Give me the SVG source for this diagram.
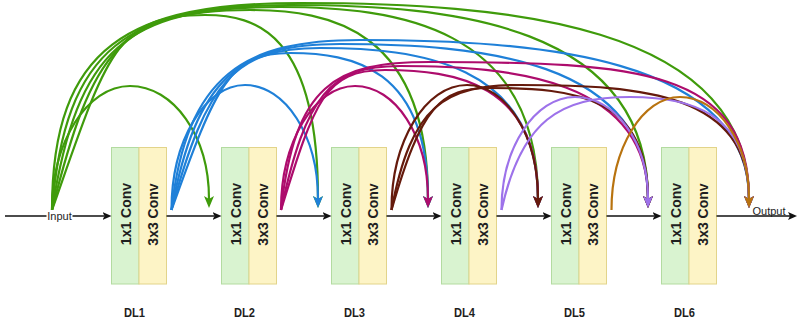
<svg xmlns="http://www.w3.org/2000/svg" width="799" height="323" viewBox="0 0 799 323">
<style>
.g{fill:#d9f3d0;stroke:#b3dba0;stroke-width:1}
.y{fill:#fdf4c6;stroke:#e2d48a;stroke-width:1}
.bt{font-family:"Liberation Sans",Arial,sans-serif;font-size:14px;font-weight:bold;fill:#1e1e1e;text-anchor:middle}
.dl{font-family:"Liberation Sans",Arial,sans-serif;font-size:13px;font-weight:bold;fill:#1e1e1e;text-anchor:middle}
.io{font-family:"Liberation Sans",Arial,sans-serif;font-size:11px;fill:#1e1e1e;text-anchor:middle}
.main{fill:none;stroke:#111;stroke-width:1.5;marker-end:url(#ak)}
.arc{fill:none;stroke-width:2.2}
.cg{stroke:#3f9b0b;marker-end:url(#ag)}
.cb{stroke:#1f80d8;marker-end:url(#ab)}
.cm{stroke:#ad0c6c;marker-end:url(#am)}
.cr{stroke:#651a0c;marker-end:url(#ar)}
.cp{stroke:#9d72ea;marker-end:url(#ap)}
.co{stroke:#b8730f;marker-end:url(#ao)}
</style>
<defs>
<marker id="ak" markerUnits="userSpaceOnUse" markerWidth="10" markerHeight="8" refX="2" refY="4" orient="auto"><path d="M0,0 L9,4 L0,8 L2,4 Z" fill="#111"/></marker>
<marker id="ag" markerUnits="userSpaceOnUse" markerWidth="12" markerHeight="10" refX="3" refY="5" orient="auto"><path d="M0,0 L12,5 L0,10 L3,5 Z" fill="#3f9b0b"/></marker>
<marker id="ab" markerUnits="userSpaceOnUse" markerWidth="12" markerHeight="10" refX="3" refY="5" orient="auto"><path d="M0,0 L12,5 L0,10 L3,5 Z" fill="#1f80d8"/></marker>
<marker id="am" markerUnits="userSpaceOnUse" markerWidth="12" markerHeight="10" refX="3" refY="5" orient="auto"><path d="M0,0 L12,5 L0,10 L3,5 Z" fill="#ad0c6c"/></marker>
<marker id="ar" markerUnits="userSpaceOnUse" markerWidth="12" markerHeight="10" refX="3" refY="5" orient="auto"><path d="M0,0 L12,5 L0,10 L3,5 Z" fill="#651a0c"/></marker>
<marker id="ap" markerUnits="userSpaceOnUse" markerWidth="12" markerHeight="10" refX="3" refY="5" orient="auto"><path d="M0,0 L12,5 L0,10 L3,5 Z" fill="#9d72ea"/></marker>
<marker id="ao" markerUnits="userSpaceOnUse" markerWidth="12" markerHeight="10" refX="3" refY="5" orient="auto"><path d="M0,0 L12,5 L0,10 L3,5 Z" fill="#b8730f"/></marker>
</defs>
<rect width="799" height="323" fill="#fff"/>

<g id="DL1">
<rect class="g" x="111.5" y="147.5" width="27.5" height="136.5"/>
<rect class="y" x="139" y="147.5" width="27.5" height="136.5"/>
<text class="bt" transform="translate(130.5,214) rotate(-90)">1x1 Conv</text>
<text class="bt" transform="translate(157.5,214.5) rotate(-90)">3x3 Conv</text>
<text class="dl" x="134.5" y="316.5" textLength="21" lengthAdjust="spacingAndGlyphs">DL1</text>
</g>
<g id="DL2">
<rect class="g" x="221.5" y="147.5" width="27.5" height="136.5"/>
<rect class="y" x="249" y="147.5" width="27.5" height="136.5"/>
<text class="bt" transform="translate(240.5,214) rotate(-90)">1x1 Conv</text>
<text class="bt" transform="translate(267.5,214.5) rotate(-90)">3x3 Conv</text>
<text class="dl" x="244.5" y="316.5" textLength="21" lengthAdjust="spacingAndGlyphs">DL2</text>
</g>
<g id="DL3">
<rect class="g" x="331.5" y="147.5" width="27.5" height="136.5"/>
<rect class="y" x="359" y="147.5" width="27.5" height="136.5"/>
<text class="bt" transform="translate(350.5,214) rotate(-90)">1x1 Conv</text>
<text class="bt" transform="translate(377.5,214.5) rotate(-90)">3x3 Conv</text>
<text class="dl" x="354.5" y="316.5" textLength="21" lengthAdjust="spacingAndGlyphs">DL3</text>
</g>
<g id="DL4">
<rect class="g" x="441.5" y="147.5" width="27.5" height="136.5"/>
<rect class="y" x="469" y="147.5" width="27.5" height="136.5"/>
<text class="bt" transform="translate(460.5,214) rotate(-90)">1x1 Conv</text>
<text class="bt" transform="translate(487.5,214.5) rotate(-90)">3x3 Conv</text>
<text class="dl" x="464.5" y="316.5" textLength="21" lengthAdjust="spacingAndGlyphs">DL4</text>
</g>
<g id="DL5">
<rect class="g" x="551.5" y="147.5" width="27.5" height="136.5"/>
<rect class="y" x="579" y="147.5" width="27.5" height="136.5"/>
<text class="bt" transform="translate(570.5,214) rotate(-90)">1x1 Conv</text>
<text class="bt" transform="translate(597.5,214.5) rotate(-90)">3x3 Conv</text>
<text class="dl" x="574.5" y="316.5" textLength="21" lengthAdjust="spacingAndGlyphs">DL5</text>
</g>
<g id="DL6">
<rect class="g" x="661.5" y="147.5" width="27.5" height="136.5"/>
<rect class="y" x="689" y="147.5" width="27.5" height="136.5"/>
<text class="bt" transform="translate(680.5,214) rotate(-90)">1x1 Conv</text>
<text class="bt" transform="translate(707.5,214.5) rotate(-90)">3x3 Conv</text>
<text class="dl" x="684.5" y="316.5" textLength="21" lengthAdjust="spacingAndGlyphs">DL6</text>
</g>

<g id="connectors">
<path class="main" d="M5,216 H104.5"/>
<path class="main" d="M166.5,216 H214.5"/>
<path class="main" d="M276.5,216 H324.5"/>
<path class="main" d="M386.5,216 H434.5"/>
<path class="main" d="M496.5,216 H544.5"/>
<path class="main" d="M606.5,216 H654.5"/>
<path class="main" d="M716.5,216 H790"/>
<g id="arcs">
<path class="arc cg" d="M52,210 C52,142 87,86 130,86 C173.6,86 209,136 209,199"/>
<path class="arc cg" d="M52,210 C107,54 115,15 205,15 C256,15 318,33 318,199"/>
<path class="arc cg" d="M52,210 C92,50 120,10 250,10 C330,10 428,29 428,199"/>
<path class="arc cg" d="M52,210 C78,48 125,7 280,7 C396,7 538,26 538,199"/>
<path class="arc cg" d="M52,210 C65,46 128,5 290,5 C451,5 648,24 648,199"/>
<path class="arc cg" d="M52,210 C52,45 130,3 300,3 C502,3 749,22.5 749,199"/>

<path class="arc cb" d="M171.5,210 C171.5,141 204.7,85 245,85 C285.3,85 318,135.6 318,199"/>
<path class="arc cb" d="M171.5,210 C216.5,84 230,53 290,53 C352,53 428,67.5 428,199"/>
<path class="arc cb" d="M171.5,210 C206.5,81 235,48 320,48 C418,48 538,63 538,199"/>
<path class="arc cb" d="M171.5,210 C196.5,77 240,44 340,44 C478.6,44 648,59.4 648,199"/>
<path class="arc cb" d="M171.5,210 C186.5,74 245,40 360,40 C535,40 749,56 749,199"/>

<path class="arc cm" d="M281,210 C281,142 314.2,86 355,86 C395.3,86 428,136 428,199"/>
<path class="arc cm" d="M281,210 C315,100 325,70 385,70 C455,70 538,83 538,199"/>
<path class="arc cm" d="M281,210 C306,95 330,66 400,66 C511.6,66 648,79 648,199"/>
<path class="arc cm" d="M281,210 C295,84 335,62 430,62 C637,62 749,69 749,199"/>

<path class="arc cr" d="M391.5,210 C391.5,141 425.6,85 467,85 C506.2,85 538,135.6 538,199"/>
<path class="arc cr" d="M391.5,210 C421.5,106 440,88 490,88 C576.9,88 648,96.8 648,199"/>
<path class="arc cr" d="M391.5,210 C411.5,104 445,85 520,85 C646,85 749,94 749,199"/>

<path class="arc cp" d="M501.5,210 C501.5,148 534.7,97 575,97 C615.3,97 648,142 648,199"/>
<path class="arc cp" d="M501.5,210 C521.5,120 560,97 630,97 C689.5,97 749,112 749,199"/>

<path class="arc co" d="M611.5,210 C611.5,148 642.5,97 680,97 C718,97 749,142 749,199"/>
</g>
</g>

<g id="Input">
<rect x="46.5" y="210" width="26" height="11" fill="#fff"/>
<text class="io" x="59.5" y="219.5">Input</text>
</g>
<g id="Output">
<text class="io" x="769" y="215">Output</text>
</g>
</svg>
